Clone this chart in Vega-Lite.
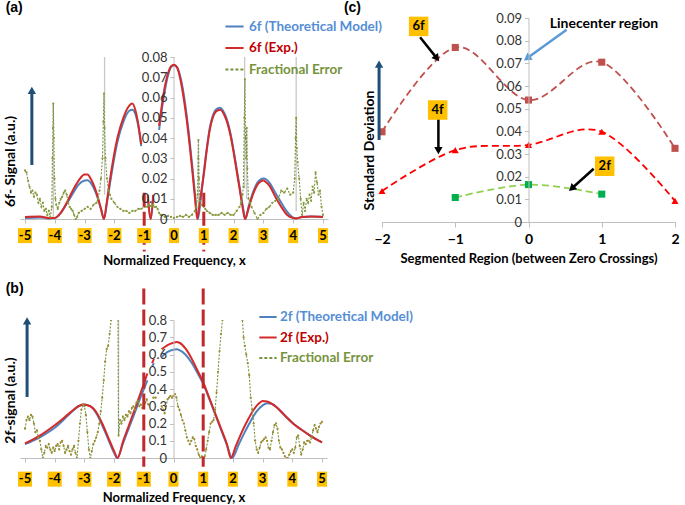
{
"$schema":"https://vega.github.io/schema/vega-lite/v6.json",
"background":"white",
"padding":{"left":3,"top":1,"right":4,"bottom":4},
"config":{"font":"Lato","view":{"stroke":null},"axis":{"labelFont":"Lato","titleFont":"Lato","labelOverlap":false},"legend":{"labelFont":"Lato"}},
"datasets":{
"ticks":[{"x":-5,"l":"-5"},{"x":-4,"l":"-4"},{"x":-3,"l":"-3"},{"x":-2,"l":"-2"},{"x":-1,"l":"-1"},{"x":0,"l":"0"},{"x":1,"l":"1"},{"x":2,"l":"2"},{"x":3,"l":"3"},{"x":4,"l":"4"},{"x":5,"l":"5"}],
"bounds":[{"x":-1},{"x":1}],
"curvesA":[
{"x":-5,"y":0.0005,"s":"6f (Theoretical Model)","g":1},{"x":-4.5,"y":0.0008,"s":"6f (Theoretical Model)","g":1},{"x":-4.2,"y":0.0003,"s":"6f (Theoretical Model)","g":1},{"x":-4.0,"y":0.0005,"s":"6f (Theoretical Model)","g":1},{"x":-3.8,"y":0.003,"s":"6f (Theoretical Model)","g":1},{"x":-3.6,"y":0.0075,"s":"6f (Theoretical Model)","g":1},{"x":-3.4,"y":0.0125,"s":"6f (Theoretical Model)","g":1},{"x":-3.2,"y":0.017,"s":"6f (Theoretical Model)","g":1},{"x":-3.0,"y":0.019,"s":"6f (Theoretical Model)","g":1},{"x":-2.9,"y":0.0192,"s":"6f (Theoretical Model)","g":1},{"x":-2.8,"y":0.018,"s":"6f (Theoretical Model)","g":1},{"x":-2.6,"y":0.012,"s":"6f (Theoretical Model)","g":1},{"x":-2.45,"y":0.005,"s":"6f (Theoretical Model)","g":1},{"x":-2.35,"y":0.0,"s":"6f (Theoretical Model)","g":1},{"x":-2.25,"y":0.008,"s":"6f (Theoretical Model)","g":1},{"x":-2.1,"y":0.022,"s":"6f (Theoretical Model)","g":1},{"x":-1.9,"y":0.038,"s":"6f (Theoretical Model)","g":1},{"x":-1.7,"y":0.048,"s":"6f (Theoretical Model)","g":1},{"x":-1.5,"y":0.0535,"s":"6f (Theoretical Model)","g":1},{"x":-1.4,"y":0.054,"s":"6f (Theoretical Model)","g":1},{"x":-1.3,"y":0.052,"s":"6f (Theoretical Model)","g":1},{"x":-1.2,"y":0.046,"s":"6f (Theoretical Model)","g":1},{"x":-1.1,"y":0.036,"s":"6f (Theoretical Model)","g":1},
{"x":-0.88,"y":0.011,"s":"6f (Theoretical Model)","g":2},{"x":-0.78,"y":0.0,"s":"6f (Theoretical Model)","g":2},{"x":-0.7,"y":0.01,"s":"6f (Theoretical Model)","g":2},
{"x":-0.5,"y":0.044,"s":"6f (Theoretical Model)","g":3},{"x":-0.4,"y":0.055,"s":"6f (Theoretical Model)","g":3},{"x":-0.3,"y":0.064,"s":"6f (Theoretical Model)","g":3},{"x":-0.2,"y":0.071,"s":"6f (Theoretical Model)","g":3},{"x":-0.1,"y":0.075,"s":"6f (Theoretical Model)","g":3},{"x":0,"y":0.076,"s":"6f (Theoretical Model)","g":3},{"x":0.1,"y":0.075,"s":"6f (Theoretical Model)","g":3},{"x":0.2,"y":0.071,"s":"6f (Theoretical Model)","g":3},{"x":0.3,"y":0.064,"s":"6f (Theoretical Model)","g":3},{"x":0.4,"y":0.054,"s":"6f (Theoretical Model)","g":3},{"x":0.5,"y":0.042,"s":"6f (Theoretical Model)","g":3},{"x":0.6,"y":0.028,"s":"6f (Theoretical Model)","g":3},{"x":0.7,"y":0.013,"s":"6f (Theoretical Model)","g":3},{"x":0.8,"y":0.0,"s":"6f (Theoretical Model)","g":3},{"x":0.9,"y":0.01,"s":"6f (Theoretical Model)","g":3},{"x":1.0,"y":0.023,"s":"6f (Theoretical Model)","g":3},{"x":1.1,"y":0.035,"s":"6f (Theoretical Model)","g":3},{"x":1.2,"y":0.045,"s":"6f (Theoretical Model)","g":3},{"x":1.3,"y":0.051,"s":"6f (Theoretical Model)","g":3},{"x":1.4,"y":0.054,"s":"6f (Theoretical Model)","g":3},{"x":1.55,"y":0.055,"s":"6f (Theoretical Model)","g":3},{"x":1.7,"y":0.052,"s":"6f (Theoretical Model)","g":3},{"x":1.8,"y":0.048,"s":"6f (Theoretical Model)","g":3},{"x":1.9,"y":0.042,"s":"6f (Theoretical Model)","g":3},{"x":2.0,"y":0.034,"s":"6f (Theoretical Model)","g":3},{"x":2.1,"y":0.025,"s":"6f (Theoretical Model)","g":3},{"x":2.2,"y":0.016,"s":"6f (Theoretical Model)","g":3},{"x":2.3,"y":0.007,"s":"6f (Theoretical Model)","g":3},{"x":2.4,"y":0.0,"s":"6f (Theoretical Model)","g":3},{"x":2.5,"y":0.006,"s":"6f (Theoretical Model)","g":3},{"x":2.6,"y":0.011,"s":"6f (Theoretical Model)","g":3},{"x":2.7,"y":0.015,"s":"6f (Theoretical Model)","g":3},{"x":2.8,"y":0.018,"s":"6f (Theoretical Model)","g":3},{"x":2.9,"y":0.0195,"s":"6f (Theoretical Model)","g":3},{"x":3.0,"y":0.02,"s":"6f (Theoretical Model)","g":3},{"x":3.1,"y":0.0195,"s":"6f (Theoretical Model)","g":3},{"x":3.2,"y":0.018,"s":"6f (Theoretical Model)","g":3},{"x":3.4,"y":0.013,"s":"6f (Theoretical Model)","g":3},{"x":3.6,"y":0.008,"s":"6f (Theoretical Model)","g":3},{"x":3.8,"y":0.0035,"s":"6f (Theoretical Model)","g":3},{"x":4.0,"y":0.0007,"s":"6f (Theoretical Model)","g":3},{"x":4.1,"y":0.0003,"s":"6f (Theoretical Model)","g":3},{"x":4.3,"y":0.001,"s":"6f (Theoretical Model)","g":3},{"x":4.6,"y":0.0012,"s":"6f (Theoretical Model)","g":3},{"x":5.0,"y":0.001,"s":"6f (Theoretical Model)","g":3},
{"x":-5,"y":0.001,"s":"6f (Exp.)","g":1},{"x":-4.5,"y":0.0012,"s":"6f (Exp.)","g":1},{"x":-4.2,"y":0.0005,"s":"6f (Exp.)","g":1},{"x":-4.0,"y":0.0005,"s":"6f (Exp.)","g":1},{"x":-3.8,"y":0.003,"s":"6f (Exp.)","g":1},{"x":-3.6,"y":0.008,"s":"6f (Exp.)","g":1},{"x":-3.4,"y":0.014,"s":"6f (Exp.)","g":1},{"x":-3.2,"y":0.019,"s":"6f (Exp.)","g":1},{"x":-3.0,"y":0.022,"s":"6f (Exp.)","g":1},{"x":-2.9,"y":0.022,"s":"6f (Exp.)","g":1},{"x":-2.8,"y":0.02,"s":"6f (Exp.)","g":1},{"x":-2.6,"y":0.013,"s":"6f (Exp.)","g":1},{"x":-2.45,"y":0.005,"s":"6f (Exp.)","g":1},{"x":-2.35,"y":0.0,"s":"6f (Exp.)","g":1},{"x":-2.25,"y":0.009,"s":"6f (Exp.)","g":1},{"x":-2.1,"y":0.024,"s":"6f (Exp.)","g":1},{"x":-1.9,"y":0.04,"s":"6f (Exp.)","g":1},{"x":-1.7,"y":0.05,"s":"6f (Exp.)","g":1},{"x":-1.5,"y":0.056,"s":"6f (Exp.)","g":1},{"x":-1.4,"y":0.057,"s":"6f (Exp.)","g":1},{"x":-1.3,"y":0.054,"s":"6f (Exp.)","g":1},{"x":-1.2,"y":0.047,"s":"6f (Exp.)","g":1},{"x":-1.1,"y":0.037,"s":"6f (Exp.)","g":1},
{"x":-0.88,"y":0.012,"s":"6f (Exp.)","g":2},{"x":-0.78,"y":0.0,"s":"6f (Exp.)","g":2},{"x":-0.7,"y":0.012,"s":"6f (Exp.)","g":2},
{"x":-0.5,"y":0.046,"s":"6f (Exp.)","g":3},{"x":-0.4,"y":0.057,"s":"6f (Exp.)","g":3},{"x":-0.3,"y":0.066,"s":"6f (Exp.)","g":3},{"x":-0.2,"y":0.072,"s":"6f (Exp.)","g":3},{"x":-0.1,"y":0.0755,"s":"6f (Exp.)","g":3},{"x":0,"y":0.0762,"s":"6f (Exp.)","g":3},{"x":0.1,"y":0.075,"s":"6f (Exp.)","g":3},{"x":0.2,"y":0.07,"s":"6f (Exp.)","g":3},{"x":0.3,"y":0.062,"s":"6f (Exp.)","g":3},{"x":0.4,"y":0.052,"s":"6f (Exp.)","g":3},{"x":0.5,"y":0.04,"s":"6f (Exp.)","g":3},{"x":0.6,"y":0.026,"s":"6f (Exp.)","g":3},{"x":0.7,"y":0.011,"s":"6f (Exp.)","g":3},{"x":0.78,"y":0.0,"s":"6f (Exp.)","g":3},{"x":0.88,"y":0.01,"s":"6f (Exp.)","g":3},{"x":1.0,"y":0.022,"s":"6f (Exp.)","g":3},{"x":1.1,"y":0.034,"s":"6f (Exp.)","g":3},{"x":1.2,"y":0.044,"s":"6f (Exp.)","g":3},{"x":1.3,"y":0.05,"s":"6f (Exp.)","g":3},{"x":1.4,"y":0.053,"s":"6f (Exp.)","g":3},{"x":1.55,"y":0.054,"s":"6f (Exp.)","g":3},{"x":1.7,"y":0.051,"s":"6f (Exp.)","g":3},{"x":1.8,"y":0.047,"s":"6f (Exp.)","g":3},{"x":1.9,"y":0.041,"s":"6f (Exp.)","g":3},{"x":2.0,"y":0.033,"s":"6f (Exp.)","g":3},{"x":2.1,"y":0.024,"s":"6f (Exp.)","g":3},{"x":2.2,"y":0.015,"s":"6f (Exp.)","g":3},{"x":2.3,"y":0.006,"s":"6f (Exp.)","g":3},{"x":2.38,"y":0.0,"s":"6f (Exp.)","g":3},{"x":2.5,"y":0.005,"s":"6f (Exp.)","g":3},{"x":2.6,"y":0.01,"s":"6f (Exp.)","g":3},{"x":2.7,"y":0.014,"s":"6f (Exp.)","g":3},{"x":2.8,"y":0.017,"s":"6f (Exp.)","g":3},{"x":2.9,"y":0.0185,"s":"6f (Exp.)","g":3},{"x":3.0,"y":0.019,"s":"6f (Exp.)","g":3},{"x":3.1,"y":0.018,"s":"6f (Exp.)","g":3},{"x":3.2,"y":0.0165,"s":"6f (Exp.)","g":3},{"x":3.4,"y":0.011,"s":"6f (Exp.)","g":3},{"x":3.6,"y":0.006,"s":"6f (Exp.)","g":3},{"x":3.8,"y":0.002,"s":"6f (Exp.)","g":3},{"x":4.0,"y":0.0005,"s":"6f (Exp.)","g":3},{"x":4.1,"y":0.0003,"s":"6f (Exp.)","g":3},{"x":4.3,"y":0.001,"s":"6f (Exp.)","g":3},{"x":4.6,"y":0.0012,"s":"6f (Exp.)","g":3},{"x":5.0,"y":0.001,"s":"6f (Exp.)","g":3}
],
"fracA":[
{"x":-5.0,"y":0.024},{"x":-4.95,"y":0.023},{"x":-4.9,"y":0.019},{"x":-4.85,"y":0.016},{"x":-4.8,"y":0.013},{"x":-4.75,"y":0.014},{"x":-4.7,"y":0.011},{"x":-4.65,"y":0.013},{"x":-4.6,"y":0.012},{"x":-4.55,"y":0.008},{"x":-4.5,"y":0.01},{"x":-4.45,"y":0.006},{"x":-4.4,"y":0.008},{"x":-4.35,"y":0.004},{"x":-4.3,"y":0.005},{"x":-4.25,"y":0.002},{"x":-4.2,"y":0.004},{"x":-4.15,"y":0.001},{"x":-4.1,"y":0.006},{"x":-4.08,"y":0.03},{"x":-4.06,"y":0.045},{"x":-4.05,"y":0.057},{"x":-4.03,"y":0.04},{"x":-4.01,"y":0.02},{"x":-3.98,"y":0.01},{"x":-3.95,"y":0.007},{"x":-3.9,"y":0.005},{"x":-3.85,"y":0.008},{"x":-3.8,"y":0.01},{"x":-3.75,"y":0.011},{"x":-3.7,"y":0.013},{"x":-3.65,"y":0.014},{"x":-3.6,"y":0.012},{"x":-3.55,"y":0.008},{"x":-3.5,"y":0.006},{"x":-3.45,"y":0.005},{"x":-3.4,"y":0.004},{"x":-3.35,"y":0.002},{"x":-3.3,"y":0.0},{"x":-3.25,"y":0.001},{"x":-3.2,"y":0.003},{"x":-3.1,"y":0.004},{"x":-3.0,"y":0.005},{"x":-2.9,"y":0.006},{"x":-2.8,"y":0.005},{"x":-2.7,"y":0.007},{"x":-2.6,"y":0.008},{"x":-2.55,"y":0.01},{"x":-2.5,"y":0.014},{"x":-2.45,"y":0.02},{"x":-2.4,"y":0.03},{"x":-2.37,"y":0.048},{"x":-2.35,"y":0.062},{"x":-2.33,"y":0.045},{"x":-2.3,"y":0.03},{"x":-2.25,"y":0.02},{"x":-2.2,"y":0.014},{"x":-2.15,"y":0.012},{"x":-2.1,"y":0.01},{"x":-2.0,"y":0.008},{"x":-1.9,"y":0.006},{"x":-1.8,"y":0.005},{"x":-1.7,"y":0.004},{"x":-1.6,"y":0.004},{"x":-1.5,"y":0.003},{"x":-1.4,"y":0.004},{"x":-1.3,"y":0.004},{"x":-1.2,"y":0.005},{"x":-1.1,"y":0.005},{"x":-1.0,"y":0.006},{"x":-0.9,"y":0.006},{"x":-0.85,"y":0.007},{"x":-0.8,"y":0.0065},{"x":-0.75,"y":0.006},{"x":-0.7,"y":0.007},{"x":-0.65,"y":0.006},{"x":-0.6,"y":0.006},{"x":-0.55,"y":0.005},{"x":-0.5,"y":0.003},{"x":-0.45,"y":0.002},{"x":-0.4,"y":0.002},{"x":-0.3,"y":0.001},{"x":-0.2,"y":0.0015},{"x":-0.1,"y":0.001},{"x":0.0,"y":0.0005},{"x":0.1,"y":0.001},{"x":0.2,"y":0.0015},{"x":0.3,"y":0.001},{"x":0.4,"y":0.002},{"x":0.5,"y":0.001},{"x":0.6,"y":0.002},{"x":0.7,"y":0.004},{"x":0.75,"y":0.006},{"x":0.79,"y":0.012},{"x":0.81,"y":0.03},{"x":0.82,"y":0.039},{"x":0.84,"y":0.02},{"x":0.87,"y":0.009},{"x":0.9,"y":0.007},{"x":0.95,"y":0.007},{"x":1.0,"y":0.006},{"x":1.05,"y":0.005},{"x":1.1,"y":0.004},{"x":1.2,"y":0.003},{"x":1.3,"y":0.002},{"x":1.4,"y":0.002},{"x":1.5,"y":0.002},{"x":1.6,"y":0.003},{"x":1.7,"y":0.002},{"x":1.8,"y":0.003},{"x":1.9,"y":0.002},{"x":2.0,"y":0.002},{"x":2.1,"y":0.004},{"x":2.2,"y":0.006},{"x":2.25,"y":0.008},{"x":2.3,"y":0.012},{"x":2.33,"y":0.016},{"x":2.36,"y":0.05},{"x":2.38,"y":0.069},{"x":2.4,"y":0.04},{"x":2.42,"y":0.03},{"x":2.44,"y":0.045},{"x":2.46,"y":0.025},{"x":2.5,"y":0.01},{"x":2.55,"y":0.008},{"x":2.6,"y":0.006},{"x":2.7,"y":0.003},{"x":2.8,"y":0.0},{"x":2.9,"y":0.002},{"x":3.0,"y":0.003},{"x":3.1,"y":0.005},{"x":3.2,"y":0.006},{"x":3.3,"y":0.008},{"x":3.4,"y":0.009},{"x":3.5,"y":0.01},{"x":3.6,"y":0.014},{"x":3.7,"y":0.013},{"x":3.8,"y":0.015},{"x":3.9,"y":0.012},{"x":4.0,"y":0.013},{"x":4.05,"y":0.02},{"x":4.08,"y":0.04},{"x":4.1,"y":0.05},{"x":4.12,"y":0.035},{"x":4.15,"y":0.028},{"x":4.2,"y":0.02},{"x":4.25,"y":0.01},{"x":4.3,"y":0.002},{"x":4.35,"y":0.008},{"x":4.4,"y":0.004},{"x":4.45,"y":0.01},{"x":4.5,"y":0.008},{"x":4.55,"y":0.012},{"x":4.6,"y":0.009},{"x":4.65,"y":0.016},{"x":4.7,"y":0.013},{"x":4.75,"y":0.023},{"x":4.8,"y":0.018},{"x":4.85,"y":0.012},{"x":4.9,"y":0.014},{"x":4.95,"y":0.006},{"x":5.0,"y":0.002}
],
"spikesA":[{"x":-4.05,"y":0,"y2":0.057},{"x":-2.33,"y":0.012,"y2":0.08},{"x":0.82,"y":0,"y2":0.039},{"x":2.37,"y":0.015,"y2":0.08},{"x":2.44,"y":0.01,"y2":0.045},{"x":4.1,"y":0.004,"y2":0.08}],
"curvesB":[
{"x":-5,"y":0.08,"s":"2f (Theoretical Model)","g":1},{"x":-4.5,"y":0.12,"s":"2f (Theoretical Model)","g":1},{"x":-4.0,"y":0.175,"s":"2f (Theoretical Model)","g":1},{"x":-3.5,"y":0.255,"s":"2f (Theoretical Model)","g":1},{"x":-3.2,"y":0.3,"s":"2f (Theoretical Model)","g":1},{"x":-3.0,"y":0.31,"s":"2f (Theoretical Model)","g":1},{"x":-2.8,"y":0.3,"s":"2f (Theoretical Model)","g":1},{"x":-2.6,"y":0.26,"s":"2f (Theoretical Model)","g":1},{"x":-2.4,"y":0.19,"s":"2f (Theoretical Model)","g":1},{"x":-2.2,"y":0.11,"s":"2f (Theoretical Model)","g":1},{"x":-2.0,"y":0.03,"s":"2f (Theoretical Model)","g":1},{"x":-1.9,"y":0.0,"s":"2f (Theoretical Model)","g":1},{"x":-1.7,"y":0.085,"s":"2f (Theoretical Model)","g":1},{"x":-1.5,"y":0.175,"s":"2f (Theoretical Model)","g":1},{"x":-1.3,"y":0.265,"s":"2f (Theoretical Model)","g":1},{"x":-1.1,"y":0.355,"s":"2f (Theoretical Model)","g":1},{"x":-0.88,"y":0.45,"s":"2f (Theoretical Model)","g":1},
{"x":-0.72,"y":0.53,"s":"2f (Theoretical Model)","g":2},{"x":-0.66,"y":0.55,"s":"2f (Theoretical Model)","g":2},
{"x":-0.4,"y":0.585,"s":"2f (Theoretical Model)","g":3},{"x":-0.2,"y":0.615,"s":"2f (Theoretical Model)","g":3},{"x":0,"y":0.628,"s":"2f (Theoretical Model)","g":3},{"x":0.1,"y":0.63,"s":"2f (Theoretical Model)","g":3},{"x":0.2,"y":0.625,"s":"2f (Theoretical Model)","g":3},{"x":0.4,"y":0.6,"s":"2f (Theoretical Model)","g":3},{"x":0.6,"y":0.555,"s":"2f (Theoretical Model)","g":3},{"x":0.8,"y":0.495,"s":"2f (Theoretical Model)","g":3},{"x":1.0,"y":0.43,"s":"2f (Theoretical Model)","g":3},{"x":1.2,"y":0.345,"s":"2f (Theoretical Model)","g":3},{"x":1.4,"y":0.255,"s":"2f (Theoretical Model)","g":3},{"x":1.6,"y":0.165,"s":"2f (Theoretical Model)","g":3},{"x":1.8,"y":0.075,"s":"2f (Theoretical Model)","g":3},{"x":1.97,"y":0.0,"s":"2f (Theoretical Model)","g":3},{"x":2.2,"y":0.08,"s":"2f (Theoretical Model)","g":3},{"x":2.4,"y":0.15,"s":"2f (Theoretical Model)","g":3},{"x":2.6,"y":0.215,"s":"2f (Theoretical Model)","g":3},{"x":2.8,"y":0.27,"s":"2f (Theoretical Model)","g":3},{"x":3.0,"y":0.305,"s":"2f (Theoretical Model)","g":3},{"x":3.15,"y":0.318,"s":"2f (Theoretical Model)","g":3},{"x":3.3,"y":0.315,"s":"2f (Theoretical Model)","g":3},{"x":3.5,"y":0.29,"s":"2f (Theoretical Model)","g":3},{"x":3.7,"y":0.255,"s":"2f (Theoretical Model)","g":3},{"x":4.0,"y":0.205,"s":"2f (Theoretical Model)","g":3},{"x":4.3,"y":0.165,"s":"2f (Theoretical Model)","g":3},{"x":4.6,"y":0.13,"s":"2f (Theoretical Model)","g":3},{"x":5.0,"y":0.09,"s":"2f (Theoretical Model)","g":3},
{"x":-5,"y":0.085,"s":"2f (Exp.)","g":1},{"x":-4.5,"y":0.13,"s":"2f (Exp.)","g":1},{"x":-4.0,"y":0.19,"s":"2f (Exp.)","g":1},{"x":-3.5,"y":0.26,"s":"2f (Exp.)","g":1},{"x":-3.2,"y":0.3,"s":"2f (Exp.)","g":1},{"x":-3.05,"y":0.31,"s":"2f (Exp.)","g":1},{"x":-2.8,"y":0.3,"s":"2f (Exp.)","g":1},{"x":-2.6,"y":0.265,"s":"2f (Exp.)","g":1},{"x":-2.4,"y":0.2,"s":"2f (Exp.)","g":1},{"x":-2.2,"y":0.12,"s":"2f (Exp.)","g":1},{"x":-2.0,"y":0.04,"s":"2f (Exp.)","g":1},{"x":-1.88,"y":0.0,"s":"2f (Exp.)","g":1},{"x":-1.7,"y":0.095,"s":"2f (Exp.)","g":1},{"x":-1.5,"y":0.19,"s":"2f (Exp.)","g":1},{"x":-1.3,"y":0.285,"s":"2f (Exp.)","g":1},{"x":-1.1,"y":0.38,"s":"2f (Exp.)","g":1},{"x":-0.88,"y":0.49,"s":"2f (Exp.)","g":1},
{"x":-0.72,"y":0.55,"s":"2f (Exp.)","g":2},{"x":-0.66,"y":0.575,"s":"2f (Exp.)","g":2},
{"x":-0.4,"y":0.63,"s":"2f (Exp.)","g":3},{"x":-0.2,"y":0.655,"s":"2f (Exp.)","g":3},{"x":0,"y":0.668,"s":"2f (Exp.)","g":3},{"x":0.1,"y":0.672,"s":"2f (Exp.)","g":3},{"x":0.2,"y":0.668,"s":"2f (Exp.)","g":3},{"x":0.4,"y":0.635,"s":"2f (Exp.)","g":3},{"x":0.6,"y":0.58,"s":"2f (Exp.)","g":3},{"x":0.8,"y":0.51,"s":"2f (Exp.)","g":3},{"x":1.0,"y":0.44,"s":"2f (Exp.)","g":3},{"x":1.2,"y":0.35,"s":"2f (Exp.)","g":3},{"x":1.4,"y":0.26,"s":"2f (Exp.)","g":3},{"x":1.6,"y":0.17,"s":"2f (Exp.)","g":3},{"x":1.8,"y":0.08,"s":"2f (Exp.)","g":3},{"x":1.93,"y":0.0,"s":"2f (Exp.)","g":3},{"x":2.1,"y":0.07,"s":"2f (Exp.)","g":3},{"x":2.3,"y":0.15,"s":"2f (Exp.)","g":3},{"x":2.5,"y":0.22,"s":"2f (Exp.)","g":3},{"x":2.7,"y":0.28,"s":"2f (Exp.)","g":3},{"x":2.9,"y":0.32,"s":"2f (Exp.)","g":3},{"x":3.0,"y":0.33,"s":"2f (Exp.)","g":3},{"x":3.15,"y":0.328,"s":"2f (Exp.)","g":3},{"x":3.3,"y":0.315,"s":"2f (Exp.)","g":3},{"x":3.5,"y":0.29,"s":"2f (Exp.)","g":3},{"x":3.7,"y":0.255,"s":"2f (Exp.)","g":3},{"x":4.0,"y":0.205,"s":"2f (Exp.)","g":3},{"x":4.3,"y":0.165,"s":"2f (Exp.)","g":3},{"x":4.6,"y":0.13,"s":"2f (Exp.)","g":3},{"x":5.0,"y":0.09,"s":"2f (Exp.)","g":3}
],
"fracB":[
{"x":-5.0,"y":0.17,"g":1},{"x":-4.95,"y":0.22,"g":1},{"x":-4.9,"y":0.24,"g":1},{"x":-4.85,"y":0.22,"g":1},{"x":-4.8,"y":0.25,"g":1},{"x":-4.75,"y":0.24,"g":1},{"x":-4.7,"y":0.2,"g":1},{"x":-4.65,"y":0.15,"g":1},{"x":-4.6,"y":0.16,"g":1},{"x":-4.55,"y":0.12,"g":1},{"x":-4.5,"y":0.1,"g":1},{"x":-4.45,"y":0.05,"g":1},{"x":-4.4,"y":0.0,"g":1},{"x":-4.35,"y":0.03,"g":1},{"x":-4.3,"y":0.07,"g":1},{"x":-4.25,"y":0.06,"g":1},{"x":-4.2,"y":0.08,"g":1},{"x":-4.15,"y":0.05,"g":1},{"x":-4.1,"y":0.03,"g":1},{"x":-4.05,"y":0.06,"g":1},{"x":-4.0,"y":0.04,"g":1},{"x":-3.95,"y":0.07,"g":1},{"x":-3.9,"y":0.08,"g":1},{"x":-3.85,"y":0.05,"g":1},{"x":-3.8,"y":0.09,"g":1},{"x":-3.75,"y":0.1,"g":1},{"x":-3.7,"y":0.07,"g":1},{"x":-3.65,"y":0.03,"g":1},{"x":-3.6,"y":0.05,"g":1},{"x":-3.55,"y":0.07,"g":1},{"x":-3.5,"y":0.04,"g":1},{"x":-3.45,"y":0.02,"g":1},{"x":-3.4,"y":0.05,"g":1},{"x":-3.35,"y":0.07,"g":1},{"x":-3.3,"y":0.03,"g":1},{"x":-3.25,"y":0.0,"g":1},{"x":-3.2,"y":0.1,"g":1},{"x":-3.15,"y":0.2,"g":1},{"x":-3.1,"y":0.28,"g":1},{"x":-3.05,"y":0.31,"g":1},{"x":-3.0,"y":0.3,"g":1},{"x":-2.95,"y":0.25,"g":1},{"x":-2.9,"y":0.15,"g":1},{"x":-2.85,"y":0.05,"g":1},{"x":-2.8,"y":0.0,"g":1},{"x":-2.75,"y":0.04,"g":1},{"x":-2.7,"y":0.08,"g":1},{"x":-2.65,"y":0.1,"g":1},{"x":-2.6,"y":0.12,"g":1},{"x":-2.55,"y":0.15,"g":1},{"x":-2.5,"y":0.2,"g":1},{"x":-2.45,"y":0.27,"g":1},{"x":-2.4,"y":0.35,"g":1},{"x":-2.35,"y":0.45,"g":1},{"x":-2.3,"y":0.56,"g":1},{"x":-2.25,"y":0.63,"g":1},{"x":-2.2,"y":0.65,"g":1},{"x":-2.15,"y":0.72,"g":1},{"x":-2.1,"y":0.8,"g":1},{"x":-2.05,"y":0.95,"g":1},{"x":-1.88,"y":1.2,"g":1},{"x":-1.85,"y":0.13,"g":1},{"x":-1.8,"y":0.22,"g":1},{"x":-1.75,"y":0.2,"g":1},{"x":-1.7,"y":0.24,"g":1},{"x":-1.65,"y":0.22,"g":1},{"x":-1.6,"y":0.25,"g":1},{"x":-1.55,"y":0.24,"g":1},{"x":-1.5,"y":0.27,"g":1},{"x":-1.45,"y":0.26,"g":1},{"x":-1.4,"y":0.29,"g":1},{"x":-1.35,"y":0.3,"g":1},{"x":-1.3,"y":0.28,"g":1},{"x":-1.25,"y":0.32,"g":1},{"x":-1.2,"y":0.33,"g":1},{"x":-1.15,"y":0.3,"g":1},{"x":-1.1,"y":0.31,"g":1},{"x":-1.05,"y":0.29,"g":1},{"x":-1.0,"y":0.3,"g":1},{"x":-0.95,"y":0.32,"g":1},{"x":-0.9,"y":0.34,"g":1},{"x":-0.85,"y":0.31,"g":1},
{"x":-0.68,"y":0.35,"g":2},{"x":-0.6,"y":0.35,"g":2},
{"x":-0.4,"y":0.3,"g":3},{"x":-0.35,"y":0.28,"g":3},{"x":-0.3,"y":0.26,"g":3},{"x":-0.25,"y":0.3,"g":3},{"x":-0.2,"y":0.34,"g":3},{"x":-0.15,"y":0.35,"g":3},{"x":-0.1,"y":0.36,"g":3},{"x":-0.05,"y":0.35,"g":3},{"x":0.0,"y":0.36,"g":3},{"x":0.05,"y":0.37,"g":3},{"x":0.1,"y":0.35,"g":3},{"x":0.15,"y":0.3,"g":3},{"x":0.2,"y":0.28,"g":3},{"x":0.25,"y":0.25,"g":3},{"x":0.3,"y":0.22,"g":3},{"x":0.35,"y":0.2,"g":3},{"x":0.4,"y":0.16,"g":3},{"x":0.45,"y":0.12,"g":3},{"x":0.5,"y":0.1,"g":3},{"x":0.55,"y":0.08,"g":3},{"x":0.6,"y":0.1,"g":3},{"x":0.65,"y":0.12,"g":3},{"x":0.7,"y":0.11,"g":3},{"x":0.75,"y":0.07,"g":3},{"x":0.8,"y":0.05,"g":3},{"x":0.85,"y":0.02,"g":3},{"x":0.9,"y":0.0,"g":3},{"x":0.95,"y":0.01,"g":3},{"x":1.0,"y":0.0,"g":3},{"x":1.05,"y":0.01,"g":3},{"x":1.1,"y":0.05,"g":3},{"x":1.15,"y":0.1,"g":3},{"x":1.2,"y":0.15,"g":3},{"x":1.25,"y":0.2,"g":3},{"x":1.3,"y":0.21,"g":3},{"x":1.35,"y":0.22,"g":3},{"x":1.4,"y":0.28,"g":3},{"x":1.45,"y":0.38,"g":3},{"x":1.5,"y":0.5,"g":3},{"x":1.55,"y":0.62,"g":3},{"x":1.6,"y":0.72,"g":3},{"x":1.65,"y":0.8,"g":3},{"x":1.7,"y":0.95,"g":3},{"x":2.0,"y":1.4,"g":3},{"x":2.28,"y":0.95,"g":3},{"x":2.32,"y":0.8,"g":3},{"x":2.36,"y":0.7,"g":3},{"x":2.4,"y":0.65,"g":3},{"x":2.45,"y":0.6,"g":3},{"x":2.5,"y":0.55,"g":3},{"x":2.55,"y":0.48,"g":3},{"x":2.6,"y":0.35,"g":3},{"x":2.65,"y":0.28,"g":3},{"x":2.7,"y":0.2,"g":3},{"x":2.75,"y":0.1,"g":3},{"x":2.8,"y":0.05,"g":3},{"x":2.85,"y":0.03,"g":3},{"x":2.9,"y":0.06,"g":3},{"x":2.95,"y":0.09,"g":3},{"x":3.0,"y":0.1,"g":3},{"x":3.05,"y":0.11,"g":3},{"x":3.1,"y":0.12,"g":3},{"x":3.15,"y":0.1,"g":3},{"x":3.2,"y":0.06,"g":3},{"x":3.25,"y":0.05,"g":3},{"x":3.3,"y":0.1,"g":3},{"x":3.35,"y":0.15,"g":3},{"x":3.4,"y":0.19,"g":3},{"x":3.45,"y":0.2,"g":3},{"x":3.5,"y":0.17,"g":3},{"x":3.55,"y":0.1,"g":3},{"x":3.6,"y":0.06,"g":3},{"x":3.65,"y":0.05,"g":3},{"x":3.7,"y":0.03,"g":3},{"x":3.75,"y":0.01,"g":3},{"x":3.8,"y":0.0,"g":3},{"x":3.85,"y":0.0,"g":3},{"x":3.9,"y":0.02,"g":3},{"x":3.95,"y":0.04,"g":3},{"x":4.0,"y":0.05,"g":3},{"x":4.05,"y":0.03,"g":3},{"x":4.1,"y":0.06,"g":3},{"x":4.15,"y":0.12,"g":3},{"x":4.2,"y":0.13,"g":3},{"x":4.25,"y":0.07,"g":3},{"x":4.3,"y":0.02,"g":3},{"x":4.35,"y":0.05,"g":3},{"x":4.4,"y":0.09,"g":3},{"x":4.45,"y":0.08,"g":3},{"x":4.5,"y":0.1,"g":3},{"x":4.55,"y":0.1,"g":3},{"x":4.6,"y":0.09,"g":3},{"x":4.65,"y":0.12,"g":3},{"x":4.7,"y":0.16,"g":3},{"x":4.75,"y":0.19,"g":3},{"x":4.8,"y":0.17,"g":3},{"x":4.85,"y":0.15,"g":3},{"x":4.9,"y":0.18,"g":3},{"x":4.95,"y":0.2,"g":3},{"x":5.0,"y":0.21,"g":3}
],
"spikesB":[{"x":-1.85,"y":0.13,"y2":0.8}],
"sdev":[{"x":-2,"y":0.0398,"s":"6f"},{"x":-1,"y":0.077,"s":"6f"},{"x":0,"y":0.0538,"s":"6f"},{"x":1,"y":0.0705,"s":"6f"},{"x":2,"y":0.0325,"s":"6f"},{"x":-2,"y":0.0137,"s":"4f"},{"x":-1,"y":0.0317,"s":"4f"},{"x":0,"y":0.034,"s":"4f"},{"x":1,"y":0.0398,"s":"4f"},{"x":2,"y":0.0093,"s":"4f"},{"x":-1,"y":0.0108,"s":"2f"},{"x":0,"y":0.0165,"s":"2f"},{"x":1,"y":0.0123,"s":"2f"}],
"annC":[{"t":"6f","x":-1.5,"y":0.0863},{"t":"4f","x":-1.24,"y":0.0494},{"t":"2f","x":1.04,"y":0.0246}],
"arrowsC":[{"n":"6f","x":-1.48,"y":0.0815,"x2":-1.25,"y2":0.0722},{"n":"4f","x":-1.23,"y":0.0455,"x2":-1.23,"y2":0.0315},{"n":"2f","x":0.89,"y":0.0235,"x2":0.59,"y2":0.0148},{"n":"lc","x":0.52,"y":0.0848,"x2":-0.02,"y2":0.0722}]
},
"columns":2,
"align":"each",
"bounds":"flush",
"spacing":{"row":98,"column":54},
"resolve":{"scale":{"color":"independent","stroke":"independent","fill":"independent","shape":"independent"},"legend":{"color":"independent"}},
"concat":[
{
"width":308,"height":201,
"layer":[
{"data":{"name":"spikesA"},"mark":{"type":"rule","color":"#C8C8C8","strokeWidth":1.3},
 "encoding":{"x":{"field":"x","type":"quantitative"},"y":{"field":"y","type":"quantitative"},"y2":{"field":"y2"}}},
{"data":{"values":[{}]},"mark":{"type":"rule","color":"#BFBFBF","strokeWidth":1},
 "encoding":{"x":{"datum":0,"type":"quantitative"},"y":{"datum":0,"type":"quantitative"},"y2":{"datum":0.08}}},
{"data":{"name":"curvesA"},"mark":{"type":"line","strokeWidth":2,"interpolate":"monotone"},
 "encoding":{
  "x":{"field":"x","type":"quantitative","scale":{"domain":[-5,5],"nice":false,"zero":false},
   "axis":{"orient":"bottom","values":[-5,-4,-3,-2,-1,0,1,2,3,4,5],"tickCount":30,"labels":false,"ticks":true,"tickSize":4,"tickColor":"#BFBFBF","domainColor":"#BFBFBF","grid":false,"title":"Normalized Frequency, x","titleFontSize":13,"titleFontWeight":"bold","titleColor":"#000000","titleY":41,"titleBaseline":"middle"}},
  "y":{"field":"y","type":"quantitative","scale":{"domain":[0,0.0993],"nice":false,"zero":false},
   "axis":{"orient":"left","offset":-154,"values":[0,0.01,0.02,0.03,0.04,0.05,0.06,0.07,0.08],"tickCount":30,"labelExpr":"datum.value == 0 ? '0' : format(datum.value, '.2f')","labelOverlap":false,"domain":false,"ticks":true,"tickSize":4,"tickColor":"#BFBFBF","labelFontSize":13,"labelColor":"#333333","labelPadding":3,"grid":false,"title":"6f- Signal (a.u.)","titleFontSize":14,"titleFontWeight":"bold","titleColor":"#000000","titleX":-164,"titleY":143,"titleAngle":-90,"titleAlign":"center","titleBaseline":"middle","zindex":1}},
  "color":{"field":"s","type":"nominal","scale":{"domain":["6f (Theoretical Model)","6f (Exp.)","Fractional Error"],"range":["#4F81BD","#D42A2A","#77933C"]},
   "legend":{"orient":"none","legendX":204,"legendY":-2,"title":null,"symbolType":"stroke","symbolSize":330,"symbolStrokeWidth":2,"labelFontSize":13.5,"labelFontWeight":"bold","labelOffset":4,"rowPadding":4.5,"labelLimit":300,
    "encoding":{"labels":{"fill":{"condition":[{"test":"datum.value === '6f (Exp.)'","value":"#C00000"},{"test":"datum.value === 'Fractional Error'","value":"#77933C"}],"value":"#558ED5"}},"symbols":{"strokeDash":{"condition":{"test":"datum.value === 'Fractional Error'","value":[3,2]},"value":[1,0]}}}}},
  "detail":{"field":"g","type":"nominal"}}},
{"data":{"name":"fracA"},"mark":{"type":"line","strokeWidth":1.1,"strokeDash":[2,1.5]},
 "encoding":{"x":{"field":"x","type":"quantitative"},"y":{"field":"y","type":"quantitative"},"color":{"datum":"Fractional Error","type":"nominal"}}},
{"data":{"name":"fracA"},"mark":{"type":"point","filled":true,"size":5,"color":"#8A9A3C","opacity":1},
 "encoding":{"x":{"field":"x","type":"quantitative"},"y":{"field":"y","type":"quantitative"}}},
{"data":{"name":"bounds"},"mark":{"type":"rule","color":"#C0282D","strokeWidth":3,"strokeDash":[14,5]},
 "encoding":{"x":{"field":"x","type":"quantitative"},"y":{"datum":0.013,"type":"quantitative"},"y2":{"datum":-0.016}}},
{"data":{"name":"ticks"},"mark":{"type":"bar","color":"#FFC000"},
 "encoding":{"x":{"field":"x","type":"quantitative"},"y":{"datum":-0.0045,"type":"quantitative"},"y2":{"datum":-0.0119},"size":{"condition":{"test":"datum.x < 0","value":14},"value":10}}},
{"data":{"name":"ticks"},"mark":{"type":"text","fontSize":13,"fontWeight":"bold","color":"#000000"},
 "encoding":{"x":{"field":"x","type":"quantitative"},"y":{"datum":-0.0082,"type":"quantitative"},"text":{"field":"l"}}},
{"data":{"values":[{}]},"mark":{"type":"rule","color":"#1F4E79","strokeWidth":3},
 "encoding":{"x":{"datum":-4.77,"type":"quantitative"},"y":{"datum":0.0267,"type":"quantitative"},"y2":{"datum":0.063}}},
{"data":{"values":[{}]},"mark":{"type":"point","shape":"triangle-up","filled":true,"size":70,"color":"#1F4E79","opacity":1},
 "encoding":{"x":{"datum":-4.77,"type":"quantitative"},"y":{"datum":0.0635,"type":"quantitative"}}},
{"data":{"values":[{}]},"mark":{"type":"text","text":"(a)","fontSize":14,"fontWeight":"bold","align":"left","baseline":"middle","font":"Liberation Sans","color":"#000000"},
 "encoding":{"x":{"datum":-5.65,"type":"quantitative"},"y":{"datum":0.1042,"type":"quantitative"}}}
]
},
{
"width":293,"height":204,
"layer":[
{"data":{"name":"sdev"},"mark":{"type":"line","strokeWidth":1.8,"strokeDash":[7,4],"interpolate":"cardinal"},
 "encoding":{
  "x":{"field":"x","type":"quantitative","scale":{"domain":[-2,2],"nice":false,"zero":false},
   "axis":{"orient":"bottom","values":[-2,-1,0,1,2],"tickCount":30,"format":"d","labelFlush":false,"labelOverlap":false,"labelFontSize":14,"labelFontWeight":"bold","labelColor":"#000000","labelPadding":5,"tickSize":5,"tickColor":"#BFBFBF","domainColor":"#BFBFBF","grid":false,"title":"Segmented Region (between Zero Crossings)","titleFontSize":13,"titleFontWeight":"bold","titleColor":"#000000","titlePadding":6}},
  "y":{"field":"y","type":"quantitative","scale":{"domain":[0,0.09],"nice":false,"zero":false},
   "axis":{"orient":"left","offset":-146.5,"values":[0,0.01,0.02,0.03,0.04,0.05,0.06,0.07,0.08,0.09],"tickCount":30,"labelExpr":"datum.value == 0 ? '0' : format(datum.value, '.2f')","labelOverlap":false,"domainColor":"#BFBFBF","tickSize":4,"tickColor":"#BFBFBF","labelFontSize":13,"labelColor":"#333333","labelPadding":3,"grid":false,"title":"Standard Deviation","titleFontSize":14,"titleFontWeight":"bold","titleColor":"#000000","titleX":-159.5,"titleY":132,"titleAngle":-90,"titleAlign":"center","titleBaseline":"middle","zindex":1}},
  "stroke":{"field":"s","type":"nominal","scale":{"domain":["6f","4f","2f"],"range":["#C0504D","#FF0000","#92D050"]},"legend":null}}},
{"data":{"name":"sdev"},"mark":{"type":"point","filled":true,"size":50,"opacity":1},
 "encoding":{"x":{"field":"x","type":"quantitative"},"y":{"field":"y","type":"quantitative"},
  "fill":{"field":"s","type":"nominal","scale":{"domain":["6f","4f","2f"],"range":["#C0504D","#FF0000","#00B050"]},"legend":null},
  "shape":{"field":"s","type":"nominal","scale":{"domain":["6f","4f","2f"],"range":["square","triangle-up","square"]},"legend":null}}},
{"data":{"name":"arrowsC"},"transform":[{"filter":"datum.n !== 'lc'"}],"mark":{"type":"rule","color":"#000000","strokeWidth":2.5},
 "encoding":{"x":{"field":"x","type":"quantitative"},"y":{"field":"y","type":"quantitative"},"x2":{"field":"x2"},"y2":{"field":"y2"}}},
{"data":{"name":"arrowsC"},"transform":[{"filter":"datum.n === 'lc'"}],"mark":{"type":"rule","color":"#5B9BD5","strokeWidth":2.5},
 "encoding":{"x":{"field":"x","type":"quantitative"},"y":{"field":"y","type":"quantitative"},"x2":{"field":"x2"},"y2":{"field":"y2"}}},
{"data":{"name":"arrowsC"},"transform":[{"filter":"datum.n === '6f'"}],"mark":{"type":"point","shape":"triangle-up","filled":true,"size":70,"color":"#000000","opacity":1,"angle":141.5},
 "encoding":{"x":{"field":"x2","type":"quantitative"},"y":{"field":"y2","type":"quantitative"}}},
{"data":{"name":"arrowsC"},"transform":[{"filter":"datum.n === '4f'"}],"mark":{"type":"point","shape":"triangle-up","filled":true,"size":70,"color":"#000000","opacity":1,"angle":180},
 "encoding":{"x":{"field":"x2","type":"quantitative"},"y":{"field":"y2","type":"quantitative"}}},
{"data":{"name":"arrowsC"},"transform":[{"filter":"datum.n === '2f'"}],"mark":{"type":"point","shape":"triangle-up","filled":true,"size":70,"color":"#000000","opacity":1,"angle":228},
 "encoding":{"x":{"field":"x2","type":"quantitative"},"y":{"field":"y2","type":"quantitative"}}},
{"data":{"name":"arrowsC"},"transform":[{"filter":"datum.n === 'lc'"}],"mark":{"type":"point","shape":"triangle-up","filled":true,"size":80,"color":"#5B9BD5","opacity":1,"angle":234},
 "encoding":{"x":{"field":"x2","type":"quantitative"},"y":{"field":"y2","type":"quantitative"}}},
{"data":{"name":"annC"},"mark":{"type":"point","shape":"square","filled":true,"size":380,"color":"#FFC000","opacity":1},
 "encoding":{"x":{"field":"x","type":"quantitative"},"y":{"field":"y","type":"quantitative"}}},
{"data":{"name":"annC"},"mark":{"type":"text","fontSize":13,"fontWeight":"bold","color":"#000000"},
 "encoding":{"x":{"field":"x","type":"quantitative"},"y":{"field":"y","type":"quantitative"},"text":{"field":"t"}}},
{"data":{"values":[{}]},"mark":{"type":"text","text":"Linecenter region","fontSize":14,"fontWeight":"bold","align":"left","baseline":"middle","color":"#000000"},
 "encoding":{"x":{"datum":0.29,"type":"quantitative"},"y":{"datum":0.0875,"type":"quantitative"}}},
{"data":{"values":[{}]},"mark":{"type":"rule","color":"#1F4E79","strokeWidth":3},
 "encoding":{"x":{"datum":-2.04,"type":"quantitative"},"y":{"datum":0.0362,"type":"quantitative"},"y2":{"datum":0.069}}},
{"data":{"values":[{}]},"mark":{"type":"point","shape":"triangle-up","filled":true,"size":70,"color":"#1F4E79","opacity":1},
 "encoding":{"x":{"datum":-2.04,"type":"quantitative"},"y":{"datum":0.0697,"type":"quantitative"}}},
{"data":{"values":[{}]},"mark":{"type":"text","text":"(c)","fontSize":14,"fontWeight":"bold","align":"left","baseline":"middle","font":"Liberation Sans","color":"#000000"},
 "encoding":{"x":{"datum":-2.52,"type":"quantitative"},"y":{"datum":0.0944,"type":"quantitative"}}}
]
},
{
"width":307,"height":138,
"layer":[
{"data":{"name":"spikesB"},"mark":{"type":"rule","color":"#C8C8C8","strokeWidth":1.3},
 "encoding":{"x":{"field":"x","type":"quantitative"},"y":{"field":"y","type":"quantitative"},"y2":{"field":"y2"}}},
{"data":{"name":"curvesB"},"mark":{"type":"line","strokeWidth":2,"interpolate":"monotone"},
 "encoding":{
  "x":{"field":"x","type":"quantitative","scale":{"domain":[-5,5],"nice":false,"zero":false},
   "axis":{"orient":"bottom","values":[-5,-4,-3,-2,-1,0,1,2,3,4,5],"tickCount":30,"labels":false,"ticks":true,"tickSize":4,"tickColor":"#BFBFBF","domainColor":"#BFBFBF","grid":false,"title":"Normalized Frequency, x","titleFontSize":13,"titleFontWeight":"bold","titleColor":"#000000","titleY":39,"titleBaseline":"middle"}},
  "y":{"field":"y","type":"quantitative","scale":{"domain":[0,0.8],"nice":false,"zero":false},
   "axis":{"orient":"left","offset":-153.5,"values":[0,0.1,0.2,0.3,0.4,0.5,0.6,0.7,0.8],"tickCount":30,"labelExpr":"datum.value == 0 ? '0' : format(datum.value, '.1f')","labelOverlap":false,"domainColor":"#BFBFBF","ticks":true,"tickSize":4,"tickColor":"#BFBFBF","labelFontSize":13,"labelColor":"#333333","labelPadding":3,"grid":false,"title":"2f-signal (a.u.)","titleFontSize":14,"titleFontWeight":"bold","titleColor":"#000000","titleX":-163.5,"titleY":80,"titleAngle":-90,"titleAlign":"center","titleBaseline":"middle","zindex":1}},
  "color":{"field":"s","type":"nominal","scale":{"domain":["2f (Theoretical Model)","2f (Exp.)","Fractional Error"],"range":["#4F81BD","#D42A2A","#77933C"]},
   "legend":{"orient":"none","legendX":238,"legendY":-13,"title":null,"symbolType":"stroke","symbolSize":300,"symbolStrokeWidth":2,"labelFontSize":13.5,"labelFontWeight":"bold","labelOffset":2,"rowPadding":3.5,"labelLimit":300,
    "encoding":{"labels":{"fill":{"condition":[{"test":"datum.value === '2f (Exp.)'","value":"#C00000"},{"test":"datum.value === 'Fractional Error'","value":"#77933C"}],"value":"#558ED5"}},"symbols":{"strokeDash":{"condition":{"test":"datum.value === 'Fractional Error'","value":[3,2]},"value":[1,0]}}}}},
  "detail":{"field":"g","type":"nominal"}}},
{"data":{"name":"fracB"},"mark":{"type":"line","strokeWidth":1.1,"strokeDash":[2,1.5],"clip":true},
 "encoding":{"x":{"field":"x","type":"quantitative"},"y":{"field":"y","type":"quantitative"},"color":{"datum":"Fractional Error","type":"nominal"},"detail":{"field":"g","type":"nominal"}}},
{"data":{"name":"fracB"},"mark":{"type":"point","filled":true,"size":5,"color":"#9C8A2E","opacity":1,"clip":true},
 "encoding":{"x":{"field":"x","type":"quantitative"},"y":{"field":"y","type":"quantitative"}}},
{"data":{"name":"bounds"},"mark":{"type":"rule","color":"#C0282D","strokeWidth":3,"strokeDash":[16,5]},
 "encoding":{"x":{"field":"x","type":"quantitative"},"y":{"datum":0.983,"type":"quantitative"},"y2":{"datum":-0.05}}},
{"data":{"name":"ticks"},"mark":{"type":"bar","color":"#FFC000"},
 "encoding":{"x":{"field":"x","type":"quantitative"},"y":{"datum":-0.079,"type":"quantitative"},"y2":{"datum":-0.166},"size":{"condition":{"test":"datum.x < 0","value":14},"value":10}}},
{"data":{"name":"ticks"},"mark":{"type":"text","fontSize":13,"fontWeight":"bold","color":"#000000"},
 "encoding":{"x":{"field":"x","type":"quantitative"},"y":{"datum":-0.121,"type":"quantitative"},"text":{"field":"l"}}},
{"data":{"values":[{}]},"mark":{"type":"rule","color":"#1F4E79","strokeWidth":3},
 "encoding":{"x":{"datum":-4.93,"type":"quantitative"},"y":{"datum":0.354,"type":"quantitative"},"y2":{"datum":0.79}}},
{"data":{"values":[{}]},"mark":{"type":"point","shape":"triangle-up","filled":true,"size":70,"color":"#1F4E79","opacity":1},
 "encoding":{"x":{"datum":-4.93,"type":"quantitative"},"y":{"datum":0.795,"type":"quantitative"}}},
{"data":{"values":[{}]},"mark":{"type":"text","text":"(b)","fontSize":14,"fontWeight":"bold","align":"left","baseline":"middle","font":"Liberation Sans","color":"#000000"},
 "encoding":{"x":{"datum":-5.65,"type":"quantitative"},"y":{"datum":0.98,"type":"quantitative"}}}
]
}
]
}
